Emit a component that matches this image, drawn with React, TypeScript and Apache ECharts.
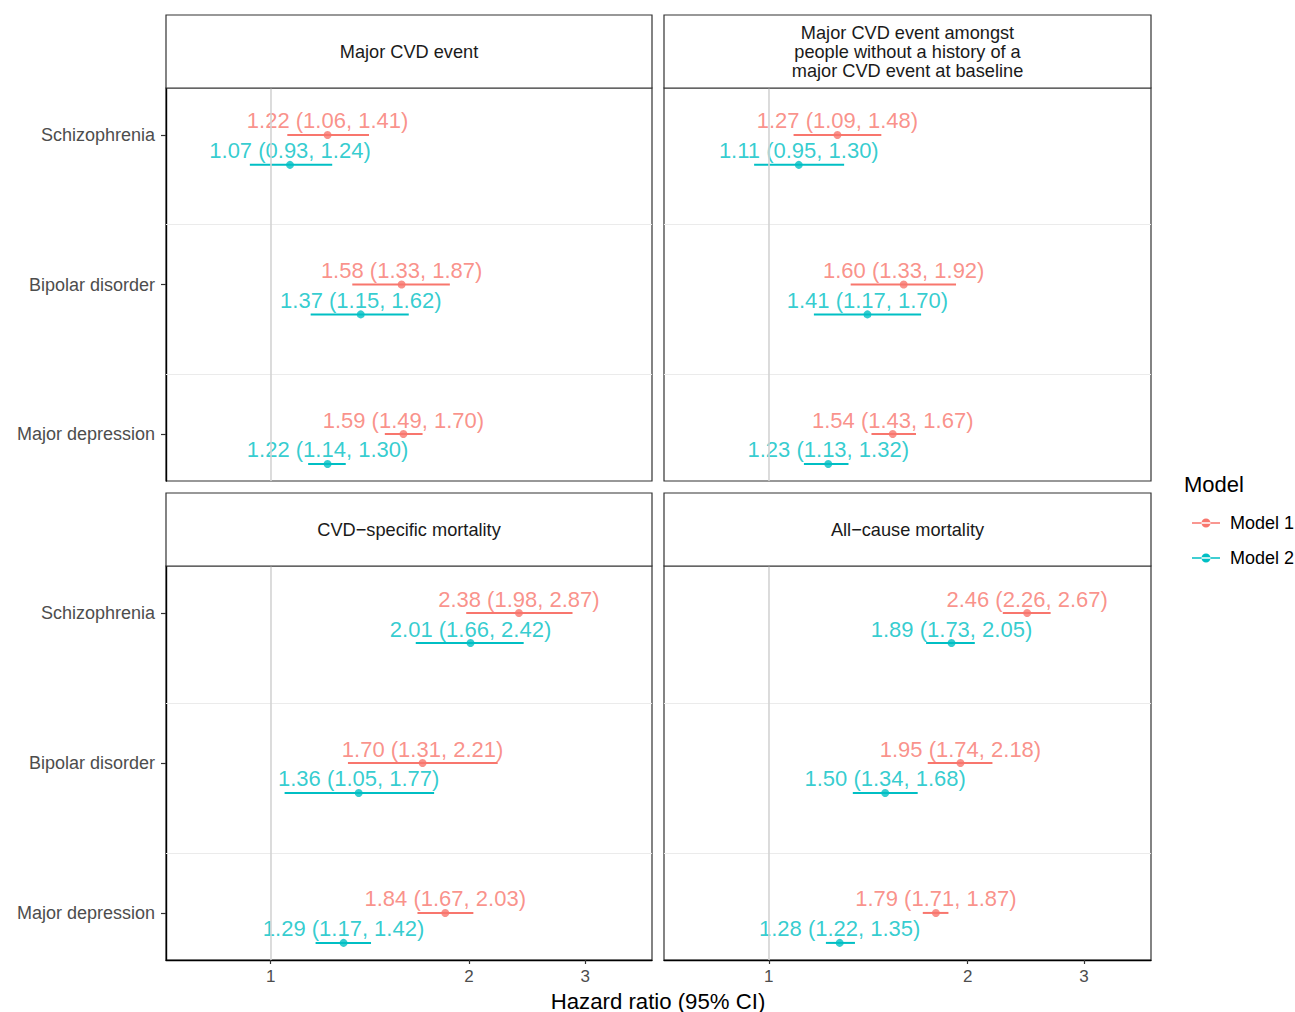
import React, { useEffect, useRef } from "react";
import * as echarts from "echarts";

const outcomes = [
  "Major CVD event",
  "Major CVD event amongst\npeople without a history of a\nmajor CVD event at baseline",
  "CVD−specific mortality",
  "All−cause mortality",
];
const conditions = ["Schizophrenia", "Bipolar disorder", "Major depression"];
const models = ["Model 1", "Model 2"];

// per outcome: [Schizophrenia, Bipolar disorder, Major depression]
const m1Est = [[1.22, 1.58, 1.59], [1.27, 1.6, 1.54], [2.38, 1.7, 1.84], [2.46, 1.95, 1.79]];
const m1Lo = [[1.06, 1.33, 1.49], [1.09, 1.33, 1.43], [1.98, 1.31, 1.67], [2.26, 1.74, 1.71]];
const m1Hi = [[1.41, 1.87, 1.7], [1.48, 1.92, 1.67], [2.87, 2.21, 2.03], [2.67, 2.18, 1.87]];
const m2Est = [[1.07, 1.37, 1.22], [1.11, 1.41, 1.23], [2.01, 1.36, 1.29], [1.89, 1.5, 1.28]];
const m2Lo = [[0.93, 1.15, 1.14], [0.95, 1.17, 1.13], [1.66, 1.05, 1.17], [1.73, 1.34, 1.22]];
const m2Hi = [[1.24, 1.62, 1.3], [1.3, 1.7, 1.32], [2.42, 1.77, 1.42], [2.05, 1.68, 1.35]];

const xTickValues = [1, 2, 3];
const xTickLabels = ["1", "2", "3"];
const refValue = 1;

const colors = ["#F8766D", "#00BFC4"];
const FONT = "'Liberation Sans', Arial, Helvetica, sans-serif";

// layout
const panels = [
  { left: 166, top: 88, width: 486, height: 393, stripTop: 15 },
  { left: 664, top: 88, width: 487, height: 393, stripTop: 15 },
  { left: 166, top: 566, width: 486, height: 394, stripTop: 493 },
  { left: 664, top: 566, width: 487, height: 394, stripTop: 493 },
];
const xMin = -0.3654;
const xMax = 1.3319;
const yMin = -0.314;
const yMax = 2.314;
const dodge = 0.2;

function fmt(v: number) {
  return v.toFixed(2);
}

export default function App() {
  const ref = useRef<HTMLDivElement>(null);
  useEffect(() => {
    if (!ref.current) return;
    const chart = echarts.init(ref.current, null, { renderer: "svg" });
    const est = [m1Est, m2Est];
    const lo = [m1Lo, m2Lo];
    const hi = [m1Hi, m2Hi];

    const grids: any[] = [];
    const xAxes: any[] = [];
    const yAxes: any[] = [];
    const series: any[] = [];
    const graphics: any[] = [];

    panels.forEach((p, pi) => {
      const isBottom = pi >= 2;
      const isLeft = pi % 2 === 0;
      grids.push({
        left: p.left,
        top: p.top,
        width: p.width,
        height: p.height,
        show: true,
        borderColor: "#333333",
        borderWidth: 1.2,
        backgroundColor: "#fff",
      });
      xAxes.push({
        type: "value",
        gridIndex: pi,
        min: xMin,
        max: xMax,
        axisLine: { show: isBottom, onZero: false, lineStyle: { color: "#000", width: 1.4 } },
        axisTick: {
          show: isBottom,
          customValues: xTickValues.map((v) => Math.log(v)),
          length: 4,
          lineStyle: { color: "#333", width: 1.2 },
        },
        axisLabel: {
          show: isBottom,
          customValues: xTickValues.map((v) => Math.log(v)),
          formatter: (v: number) => {
            let best = 0;
            xTickValues.forEach((t, i) => {
              if (Math.abs(Math.log(t) - v) < Math.abs(Math.log(xTickValues[best]) - v)) best = i;
            });
            return xTickLabels[best];
          },
          color: "#4D4D4D",
          fontSize: 17,
          fontFamily: FONT,
          margin: 8,
        },
        splitLine: { show: false },
      });
      yAxes.push({
        type: "value",
        gridIndex: pi,
        inverse: true,
        min: yMin,
        max: yMax,
        axisLine: { show: isLeft, onZero: false, lineStyle: { color: "#000", width: 1.4 } },
        axisTick: {
          show: isLeft,
          customValues: conditions.map((_, i) => i),
          length: 5,
          lineStyle: { color: "#333", width: 1.2 },
        },
        axisLabel: {
          show: isLeft,
          customValues: conditions.map((_, i) => i),
          formatter: (v: number) => conditions[Math.round(v)] ?? "",
          color: "#4D4D4D",
          fontSize: 18,
          fontFamily: FONT,
          margin: 11,
        },
        splitLine: { show: false },
      });

      // gridlines & reference line
      series.push({
        type: "scatter",
        xAxisIndex: pi,
        yAxisIndex: pi,
        data: [],
        silent: true,
        z: 1,
        markLine: {
          silent: true,
          symbol: "none",
          label: { show: false },
          animation: false,
          data: [
            ...conditions.slice(0, -1).map((_, i) => ({
              yAxis: i + (dodge + 1) / 2,
              lineStyle: { color: "#EBEBEB", width: 1, type: "solid" },
            })),
            { xAxis: Math.log(refValue), lineStyle: { color: "#D3D3D3", width: 1.6, type: "solid" } },
          ],
        },
      });

      models.forEach((m, mi) => {
        const ciData = conditions.map((_, ci) => [
          Math.log(lo[mi][pi][ci]),
          ci + mi * dodge,
          Math.log(hi[mi][pi][ci]),
        ]);
        series.push({
          type: "custom",
          name: m,
          xAxisIndex: pi,
          yAxisIndex: pi,
          z: 3,
          silent: true,
          encode: { x: [0, 2], y: 1 },
          data: ciData,
          renderItem: (params: any, api: any) => {
            const y = api.value(1);
            const a = api.coord([api.value(0), y]);
            const b = api.coord([api.value(2), y]);
            return {
              type: "line",
              shape: { x1: a[0], y1: a[1], x2: b[0], y2: b[1] },
              style: { stroke: colors[mi], lineWidth: 2 },
            };
          },
        });
        series.push({
          type: "scatter",
          name: m,
          xAxisIndex: pi,
          yAxisIndex: pi,
          z: 4,
          symbol: "circle",
          symbolSize: 8,
          itemStyle: { color: colors[mi] },
          data: conditions.map((_, ci) => ({
            value: [Math.log(est[mi][pi][ci]), ci + mi * dodge],
            label: {
              formatter:
                fmt(est[mi][pi][ci]) + " (" + fmt(lo[mi][pi][ci]) + ", " + fmt(hi[mi][pi][ci]) + ")",
            },
          })),
          label: {
            show: true,
            position: "inside",
            offset: [0, -14],
            color: colors[mi],
            fontSize: 22,
            fontFamily: FONT,
            align: "center",
            verticalAlign: "middle",
          },
        });
      });

      // strip
      graphics.push({
        type: "rect",
        shape: { x: p.left, y: p.stripTop, width: p.width, height: p.top - p.stripTop },
        style: { fill: "#fff", stroke: "#333333", lineWidth: 1.2 },
        z: 10,
      });
      graphics.push({
        type: "text",
        x: p.left + p.width / 2,
        y: (p.stripTop + p.top) / 2,
        style: {
          text: outcomes[pi],
          fill: "#1A1A1A",
          font: `18.2px ${FONT}`,
          align: "center",
          verticalAlign: "middle",
          lineHeight: 19,
        },
        z: 11,
      });
    });

    graphics.push({
      type: "text",
      x: 658,
      y: 1001,
      style: {
        text: "Hazard ratio (95% CI)",
        fill: "#000",
        font: `22.2px ${FONT}`,
        align: "center",
        verticalAlign: "middle",
      },
    });
    graphics.push({
      type: "text",
      x: 1184,
      y: 484,
      style: {
        text: "Model",
        fill: "#000",
        font: `22px ${FONT}`,
        align: "left",
        verticalAlign: "middle",
      },
    });

    chart.setOption({
      animation: false,
      backgroundColor: "#fff",
      grid: grids,
      xAxis: xAxes,
      yAxis: yAxes,
      series,
      graphic: graphics,
      legend: {
        orient: "vertical",
        left: 1187,
        top: 509,
        itemWidth: 28,
        itemHeight: 10,
        itemGap: 17,
        selectedMode: false,
        data: models.map((m, i) => ({
          name: m,
          icon: "path://M0,4.3 L28,4.3 L28,5.7 L0,5.7 Z M9.5,5 A4.5,4.5 0 1 0 18.5,5 A4.5,4.5 0 1 0 9.5,5 Z",
          itemStyle: { color: colors[i] },
        })),
        textStyle: { fontSize: 18, fontFamily: FONT, color: "#000", padding: [0, 0, 0, 5] },
      },
    });
    return () => chart.dispose();
  }, []);
  return (
    <div
      ref={ref}
      style={{ position: "fixed", left: 0, top: 0, width: 1295, height: 1012, background: "#fff" }}
    />
  );
}
